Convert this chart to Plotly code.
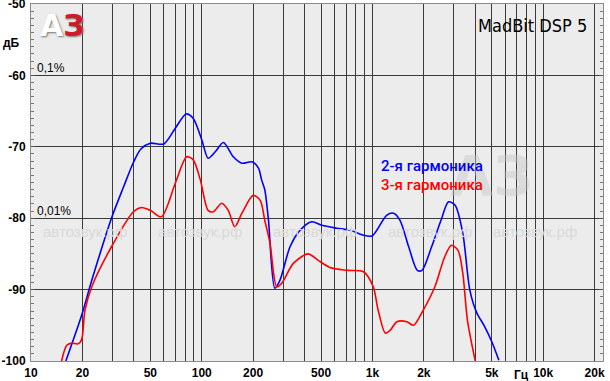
import plotly.graph_objects as go
import numpy as np

# 2nd harmonic (blue)
h2_freq = [16.0, 19.8, 22.7, 29.6, 35, 39.6, 44, 50, 60, 70, 81, 89, 100, 109, 120, 134, 153, 172, 197, 215,
           224, 234, 246, 268, 287, 329, 376, 441, 506, 617, 740, 887, 992, 1060, 1210, 1330, 1450, 1630,
           1830, 1950, 2220, 2520, 2790, 3050, 3380, 3720, 4090, 4500, 5000, 5500]
h2_db = [-100, -93.6, -88.7, -80, -75.5, -72.3, -70.3, -69.5, -69.6, -67.4, -65.4, -66, -69, -71.6, -70.7, -69.4,
         -71.4, -72.3, -72.1, -73, -74.6, -76, -80.3, -89.8, -88.7, -84, -81.7, -80.5, -81, -81.4, -81.7, -82.4,
         -82.5, -81.7, -79.6, -79.3, -80.3, -84, -87.3, -87.3, -84, -80.3, -77.7, -78.2, -82.1, -90.1, -93.3,
         -95, -97.3, -99.9]

# 3rd harmonic (red)
h3_freq = [15.1, 16.2, 17.3, 18.9, 19.8, 20.7, 22.7, 29.6, 39.8, 44.4, 50, 58, 70, 81.6, 89, 98, 109, 117, 131,
           143, 156, 172, 200, 220, 234, 251, 275, 294, 345, 420, 481, 564, 708, 887, 1010, 1080, 1190, 1270,
           1390, 1590, 1740, 1980, 2320, 2650, 2900, 3170, 3380, 3600, 4000]
h3_db = [-100, -97.8, -97.5, -97.6, -97, -92.9, -89.6, -84, -79.1, -78.5, -78.9, -79.8, -75.1, -71.4, -71.8,
         -74.6, -78.9, -79.1, -77.9, -78.9, -81.2, -79.3, -76.8, -77.5, -80.3, -83.5, -89.6, -89.1, -86.3, -85,
         -85.9, -86.9, -87.3, -87.5, -89.6, -92.9, -96.1, -95.7, -94.5, -94.5, -95, -92.9, -89.6, -85.4, -83.8,
         -84.5, -87.7, -94.3, -100]

grid_freqs = [20, 30, 40, 50, 60, 70, 80, 90, 100, 200, 300, 400, 500, 600, 700, 800, 900,
              1000, 2000, 3000, 4000, 5000, 6000, 7000, 8000, 9000, 10000, 20000]
x_labels = {10: "10", 20: "20", 50: "50", 100: "100", 200: "200", 500: "500", 1000: "1k",
            2000: "2k", 5000: "5k", 10000: "10k", 20000: "20k"}
y_ticks = [-50, -60, -70, -80, -90, -100]
y_labels = ["", "-60", "-70", "-80", "-90", "-100"]

tickvals = [10] + grid_freqs
ticktext = [x_labels.get(v, "") for v in tickvals]

W, H = 610, 381
L, R, T, B = 31, 7, 4, 20
pw, ph = W - L - R, H - T - B

def px(x):
    return (x - L) / pw

def py(y):
    return (H - B - y) / ph

fig = go.Figure()
fig.add_trace(go.Scatter(x=h2_freq, y=h2_db, mode="lines", line=dict(color="#0000ff", width=1.6, shape="spline", smoothing=0.8),
                         showlegend=False, cliponaxis=True, hoverinfo="skip"))
fig.add_trace(go.Scatter(x=h3_freq, y=h3_db, mode="lines", line=dict(color="#ff0000", width=1.6, shape="spline", smoothing=0.8),
                         showlegend=False, cliponaxis=True, hoverinfo="skip"))

font_b = dict(family="Liberation Sans", size=12, color="#000000", weight="bold")

fig.update_xaxes(type="log", range=[1, np.log10(22400)], tickvals=tickvals, ticktext=ticktext,
                 showgrid=True, gridcolor="#3a3a3a", gridwidth=1, ticks="", tickfont=font_b, automargin=False,
                 showline=True, linecolor="#8a8a8a", linewidth=1, mirror=True, zeroline=False, ticklabelstandoff=1)
fig.update_yaxes(range=[-100, -50], tickvals=y_ticks, ticktext=y_labels, automargin=False,
                 showgrid=True, gridcolor="#3a3a3a", gridwidth=1, ticks="inside", ticklen=4, tickcolor="#555",
                 minor=dict(ticks="inside", dtick=1, ticklen=3, tickcolor="#777", showgrid=False),
                 tickfont=font_b, showline=True, linecolor="#8a8a8a", linewidth=1, mirror="allticks",
                 zeroline=False, ticklabelstandoff=2)

def A(x, y, text, font, xanchor="center", yanchor="middle"):
    return dict(x=px(x), y=py(y), xref="paper", yref="paper", text=text, showarrow=False,
                xanchor=xanchor, yanchor=yanchor, font=font)

ann = []
# watermark texts
for cx in [85, 200, 315, 430, 535]:
    ann.append(A(cx, 232, "автозвук.рф", dict(family="Liberation Sans", size=15, color="#d9d9d9")))
ann += [
    A(491, 176, "АЗ", dict(family="DejaVu Sans", size=56, color="rgba(200,200,200,0.45)", weight="bold")),
    A(589, 25, "MadBit DSP 5", dict(family="DejaVu Sans Condensed", size=18, color="#000"), xanchor="right"),
    A(28, 4, "-50", font_b, xanchor="right"),
    A(1, 43, "дБ", font_b, xanchor="left"),
    A(521, 375, "Гц", font_b),
    A(35, 68, "0,1%", dict(family="Liberation Sans", size=12, color="#000"), xanchor="left"),
    A(35, 211, "0,01%", dict(family="Liberation Sans", size=12, color="#000"), xanchor="left"),
    A(379, 166, "2-я гармоника", dict(family="Roboto", size=15, color="#0000ff", weight=500), xanchor="left"),
    A(379, 185, "3-я гармоника", dict(family="Roboto", size=15, color="#ff0000", weight=500), xanchor="left"),
    A(38, 25, "<span style='color:#ffffff'>А</span><span style='color:#d11a2a'>З</span>",
      dict(family="DejaVu Sans", size=30, weight="bold", color="#fff", shadow="1px 1px 2px #777"), xanchor="left"),
]

fig.update_layout(width=W, height=H, margin=dict(l=L, r=R, t=T, b=B), paper_bgcolor="#ffffff",
                  plot_bgcolor="#ececec", annotations=ann, showlegend=False, hovermode=False)

fig.write_html("out.html", config={"displayModeBar": False, "staticPlot": True},
               post_script="document.body.style.margin='0px';document.body.style.overflow='hidden';")
